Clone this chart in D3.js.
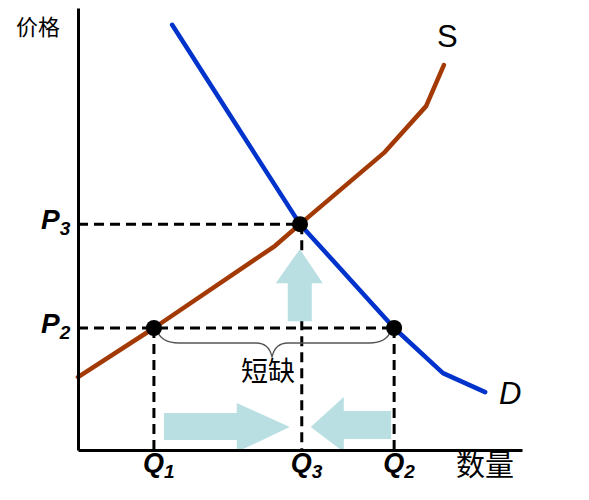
<!DOCTYPE html>
<html>
<head>
<meta charset="utf-8">
<script src="https://cdn.jsdelivr.net/npm/d3@7"></script>
<style>
  body { margin: 0; background: #fff; }
  svg { display: block; }
</style>
</head>
<body>
<div id="chart"></div>
<script>
// quantity / price in arbitrary units (0-100 on both axes)
const supplyQ = [0, 17.1, 44.4, 50.0, 69.1, 78.4, 82.4];
const supplyP = [16.5, 27.6, 46.2, 51.1, 67.4, 77.8, 87.1];
const demandQ = [21.2, 34.9, 50.0, 71.2, 82.2, 91.7];
const demandP = [96.2, 74.7, 51.1, 27.6, 17.4, 13.1];

// marked levels
const qLevels = [{ name: "Q", sub: "1", v: 17.1 }, { name: "Q", sub: "3", v: 50.4 }, { name: "Q", sub: "2", v: 71.2 }];
const pLevels = [{ name: "P", sub: "3", v: 51.1 }, { name: "P", sub: "2", v: 27.6 }];
// points on the curves: [quantity, price]
const points = [[17.1, 27.6], [50.0, 51.1], [71.2, 27.6]];

const width = 589, height = 500;
const svg = d3.select("#chart").append("svg")
  .attr("width", width).attr("height", height);

const x = d3.scaleLinear().domain([0, 100]).range([78, 522]);
const y = d3.scaleLinear().domain([0, 100]).range([450, 8]);

const dashed = svg.append("g")
  .attr("stroke", "#000")
  .attr("stroke-width", 3)
  .attr("stroke-dasharray", "10,6");

// horizontal guides to the price axis
dashed.append("line")
  .attr("x1", x(0)).attr("x2", x(points[1][0]))
  .attr("y1", y(pLevels[0].v)).attr("y2", y(pLevels[0].v));
dashed.append("line")
  .attr("x1", x(0)).attr("x2", x(points[2][0]))
  .attr("y1", y(pLevels[1].v)).attr("y2", y(pLevels[1].v));

// vertical guides to the quantity axis
dashed.selectAll(".vq")
  .data([[qLevels[0].v, pLevels[1].v], [qLevels[1].v, pLevels[0].v], [qLevels[2].v, pLevels[1].v]])
  .join("line")
  .attr("x1", d => x(d[0])).attr("x2", d => x(d[0]))
  .attr("y1", d => y(d[1])).attr("y2", y(0));

// arrows
const arrowColor = "#b9dfe2";
const ay = 427;
const xQ1 = x(qLevels[0].v), xQ3 = x(qLevels[1].v), xQ2 = x(qLevels[2].v);
svg.append("path")
  .attr("fill", arrowColor)
  .attr("d", `M${xQ1 + 10},${ay - 14} H${xQ3 - 65} V${ay - 24} L${xQ3 - 12},${ay} L${xQ3 - 65},${ay + 25} V${ay + 13} H${xQ1 + 10} Z`);
svg.append("path")
  .attr("fill", arrowColor)
  .attr("d", `M${xQ2 - 3},${ay - 16} H${xQ3 + 42} V${ay - 30} L${xQ3 + 9},${ay} L${xQ3 + 42},${ay + 25} V${ay + 12} H${xQ2 - 3} Z`);
const yP3 = y(pLevels[0].v);
svg.append("path")
  .attr("fill", arrowColor)
  .attr("d", `M${xQ3 - 2},${yP3 + 25} L${xQ3 + 21},${yP3 + 59} H${xQ3 + 10} V${yP3 + 97} H${xQ3 - 14} V${yP3 + 59} H${xQ3 - 26} Z`);

// supply and demand curves
const line = d3.line().x(d => x(d[0])).y(d => y(d[1]));
svg.append("path")
  .datum(supplyQ.map((q, i) => [q, supplyP[i]]))
  .attr("fill", "none").attr("stroke", "#a33a06").attr("stroke-width", 4.5)
  .attr("stroke-linejoin", "round").attr("stroke-linecap", "round")
  .attr("d", line);
svg.append("path")
  .datum(demandQ.map((q, i) => [q, demandP[i]]))
  .attr("fill", "none").attr("stroke", "#0033cc").attr("stroke-width", 4.5)
  .attr("stroke-linejoin", "round").attr("stroke-linecap", "round")
  .attr("d", line);

// brace under the shortage
const bx1 = xQ1 + 3, bx2 = xQ2 - 3, bmid = (xQ1 + xQ2) / 2 - 2;
const by0 = y(pLevels[1].v) + 2, by1 = by0 + 13, by2 = by0 + 27;
svg.append("path")
  .attr("fill", "none").attr("stroke", "#555").attr("stroke-width", 1.3)
  .attr("d", `M${bx1},${by0} Q${bx1 + 4},${by1} ${bx1 + 22},${by1} L${bmid - 16},${by1} Q${bmid - 3},${by1} ${bmid},${by2} Q${bmid + 3},${by1} ${bmid + 16},${by1} L${bx2 - 22},${by1} Q${bx2 - 4},${by1} ${bx2},${by0}`);

svg.append("text")
  .attr("x", bmid - 4).attr("y", by0 + 51)
  .attr("text-anchor", "middle")
  .attr("font-family", "'Noto Sans CJK SC', sans-serif")
  .attr("font-size", 27)
  .text("短缺");

// dots
svg.append("g").selectAll("circle")
  .data(points)
  .join("circle")
  .attr("cx", d => x(d[0])).attr("cy", d => y(d[1]))
  .attr("r", 8).attr("fill", "#000");

// axes
svg.append("g")
  .attr("transform", `translate(0,${y(0)})`)
  .call(d3.axisBottom(x).ticks(0).tickSizeOuter(0))
  .call(g => g.select(".domain").attr("stroke-width", 3));
svg.append("g")
  .attr("transform", `translate(${x(0)},0)`)
  .call(d3.axisLeft(y).ticks(0).tickSizeOuter(0))
  .call(g => g.select(".domain").attr("stroke-width", 3));

// level labels
const lab = "Arial, 'Liberation Sans', sans-serif";
svg.append("g").selectAll("text")
  .data(qLevels)
  .join("text")
  .attr("x", d => x(d.v) - 11).attr("y", 472)
  .attr("font-family", lab).attr("font-size", 27)
  .attr("font-weight", "bold").attr("font-style", "italic")
  .each(function (d) {
    const t = d3.select(this);
    t.append("tspan").text(d.name);
    t.append("tspan").attr("dy", 6).attr("font-size", 19).text(d.sub);
  });
svg.append("g").selectAll("text")
  .data(pLevels)
  .join("text")
  .attr("x", 41).attr("y", d => y(d.v) + 5)
  .attr("font-family", lab).attr("font-size", 28)
  .attr("font-weight", "bold").attr("font-style", "italic")
  .each(function (d) {
    const t = d3.select(this);
    t.append("tspan").text(d.name);
    t.append("tspan").attr("dy", 6).attr("font-size", 19).text(d.sub);
  });

// curve labels
svg.append("text")
  .attr("x", 437).attr("y", 47)
  .attr("font-family", lab).attr("font-size", 31)
  .text("S");
svg.append("text")
  .attr("x", 499).attr("y", 404)
  .attr("font-family", lab).attr("font-size", 31).attr("font-style", "italic")
  .text("D");

// axis titles
svg.append("text")
  .attr("x", 16).attr("y", 35)
  .attr("font-family", "'Noto Sans CJK SC', sans-serif")
  .attr("font-size", 22)
  .text("价格");
svg.append("text")
  .attr("x", 456).attr("y", 476)
  .attr("font-family", "'Noto Sans CJK SC', sans-serif")
  .attr("font-size", 29)
  .text("数量");
</script>
</body>
</html>
